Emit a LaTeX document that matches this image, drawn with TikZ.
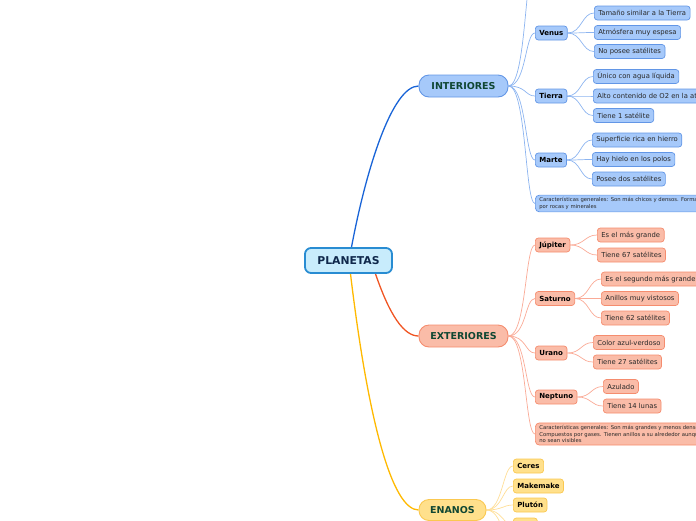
\documentclass[tikz,border=0pt]{standalone}
\usepackage{fontspec}
\setmainfont{DejaVu Sans}
\usetikzlibrary{backgrounds}
\definecolor{bfill}{RGB}{166,201,250}
\definecolor{bdraw}{RGB}{98,150,230}
\definecolor{bline}{RGB}{140,180,240}
\definecolor{bmain}{RGB}{25,100,215}
\definecolor{pfill}{RGB}{200,236,252}
\definecolor{pdraw}{RGB}{40,140,210}
\definecolor{rfill}{RGB}{250,188,168}
\definecolor{rdraw}{RGB}{245,140,110}
\definecolor{rline}{RGB}{250,170,150}
\definecolor{rmain}{RGB}{240,85,35}
\definecolor{yfill}{RGB}{255,224,140}
\definecolor{ydraw}{RGB}{250,200,80}
\definecolor{yline}{RGB}{255,222,150}
\definecolor{ymain}{RGB}{255,185,0}
\definecolor{gtext}{RGB}{15,70,50}
\definecolor{ntext}{RGB}{15,40,75}
\definecolor{ltext}{RGB}{40,40,40}
\tikzset{
  box/.style={rounded corners=3pt, line width=0.7pt, minimum height=14pt, inner xsep=4pt, inner ysep=0pt, anchor=west},
  leaf/.style={box, font=\fontsize{6.8}{8}\selectfont, text=ltext},
  sub/.style={box, font=\fontsize{7}{8}\selectfont\bfseries, text=black},
  note/.style={box, rounded corners=4pt, font=\fontsize{5.3}{6.4}\selectfont, text=ltext, align=left, inner ysep=2.5pt, inner xsep=4pt},
  mainbox/.style={rounded corners=10pt, line width=0.9pt, minimum height=22pt, font=\fontsize{9.5}{11}\selectfont\bfseries, text=gtext, inner xsep=11pt},
  bl/.style={fill=bfill, draw=bdraw},
  rd/.style={fill=rfill, draw=rdraw},
  yl/.style={fill=yfill, draw=ydraw},
  blink/.style={draw=bline, line width=0.7pt},
  rlink/.style={draw=rline, line width=0.7pt},
  ylink/.style={draw=yline, line width=0.7pt},
}
\begin{document}
\begin{tikzpicture}[x=1pt,y=-1pt]
\useasboundingbox (0,0) rectangle (696,520);
\clip (0,0) rectangle (696,520);
% root
\node[rounded corners=6pt, fill=pfill, draw=pdraw, line width=1.8pt, minimum width=87pt, minimum height=25pt, font=\fontsize{10.8}{12}\selectfont\bfseries, text=ntext] (pl) at (348.5,260.5) {PLANETAS};
% interiores
\node[mainbox, bl, minimum width=89pt] (int) at (463.5,86) {INTERIORES};
\node[sub, bl] (venus) at (535,33) {Venus};
\node[sub, bl] (tierra) at (535,96) {Tierra};
\node[sub, bl] (marte) at (535,160) {Marte};
\node[note, bl] (intc) at (535,203.5) {Características generales: Son más chicos y densos. Formados\\por rocas y minerales};
\node[leaf, bl] (v1) at (594,13) {Tamaño similar a la Tierra};
\node[leaf, bl] (v2) at (594,32.5) {Atmósfera muy espesa};
\node[leaf, bl] (v3) at (594,51.5) {No posee satélites};
\node[leaf, bl] (t1) at (593,76.5) {Único con agua líquida};
\node[leaf, bl] (t2) at (593,96) {Alto contenido de O2 en la atmósfera};
\node[leaf, bl] (t3) at (593,115.5) {Tiene 1 satélite};
\node[leaf, bl] (m1) at (592,140) {Superficie rica en hierro};
\node[leaf, bl] (m2) at (592,159.5) {Hay hielo en los polos};
\node[leaf, bl] (m3) at (592,179) {Posee dos satélites};
\coordinate (merc) at (535,-40);
% exteriores
\node[mainbox, rd, minimum width=89pt] (ext) at (463.5,336) {EXTERIORES};
\node[sub, rd] (jup) at (535,245) {Júpiter};
\node[sub, rd] (sat) at (535,298.5) {Saturno};
\node[sub, rd] (ura) at (535,353) {Urano};
\node[sub, rd] (nep) at (535,397) {Neptuno};
\node[note, rd] (extc) at (535,434) {Características generales: Son más grandes y menos densos.\\Compuestos por gases. Tienen anillos a su alrededor aunque\\no sean visibles};
\node[leaf, rd] (j1) at (597,235) {Es el más grande};
\node[leaf, rd] (j2) at (597,255) {Tiene 67 satélites};
\node[leaf, rd] (s1) at (601,279) {Es el segundo más grande};
\node[leaf, rd] (s2) at (601,298.5) {Anillos muy vistosos};
\node[leaf, rd] (s3) at (601,318) {Tiene 62 satélites};
\node[leaf, rd] (u1) at (593,342.5) {Color azul-verdoso};
\node[leaf, rd] (u2) at (593,362) {Tiene 27 satélites};
\node[leaf, rd] (n1) at (603,386.5) {Azulado};
\node[leaf, rd] (n2) at (603,406) {Tiene 14 lunas};
% enanos
\node[mainbox, yl, minimum width=67pt, minimum height=21pt] (ena) at (452.5,510) {ENANOS};
\node[sub, yl] (ceres) at (513,466) {Ceres};
\node[sub, yl] (make) at (513,486) {Makemake};
\node[sub, yl] (pluto) at (513,505) {Plutón};
\node[sub, yl, minimum width=24pt] (eris) at (513,525) {};
\coordinate (haum) at (513,545);
\begin{pgfonlayer}{background}
% main branches
\draw[bmain, line width=1.3pt] ([xshift=3pt]pl.north) .. controls (366,170) and (392,86) .. (int.west);
\draw[rmain, line width=1.3pt] ([xshift=27pt]pl.south) .. controls (390,316) and (404,336) .. (ext.west);
\draw[ymain, line width=1.3pt] ([xshift=2pt]pl.south) .. controls (368,420) and (392,510) .. (ena.west);
% interiores children
\foreach \c in {venus,tierra,marte,intc}
  \draw[blink] (int.east) .. controls +(18,0) and +(-10,0) .. (\c.west);
\draw[blink] (int.east) .. controls +(18,0) and +(-10,0) .. (merc);
\foreach \c in {v1,v2,v3}
  \draw[blink] (venus.east) .. controls +(14,0) and +(-12,0) .. (\c.west);
\foreach \c in {t1,t2,t3}
  \draw[blink] (tierra.east) .. controls +(14,0) and +(-12,0) .. (\c.west);
\foreach \c in {m1,m2,m3}
  \draw[blink] (marte.east) .. controls +(14,0) and +(-12,0) .. (\c.west);
% exteriores children
\foreach \c in {jup,sat,ura,nep,extc}
  \draw[rlink] (ext.east) .. controls +(18,0) and +(-10,0) .. (\c.west);
\foreach \c in {j1,j2}
  \draw[rlink] (jup.east) .. controls +(14,0) and +(-12,0) .. (\c.west);
\foreach \c in {s1,s2,s3}
  \draw[rlink] (sat.east) .. controls +(14,0) and +(-12,0) .. (\c.west);
\foreach \c in {u1,u2}
  \draw[rlink] (ura.east) .. controls +(14,0) and +(-12,0) .. (\c.west);
\foreach \c in {n1,n2}
  \draw[rlink] (nep.east) .. controls +(14,0) and +(-12,0) .. (\c.west);
% enanos children
\foreach \c in {ceres,make,pluto,eris}
  \draw[ylink] (ena.east) .. controls +(16,0) and +(-10,0) .. (\c.west);
\draw[ylink] (ena.east) .. controls +(16,0) and +(-10,0) .. (haum);
\end{pgfonlayer}
\end{tikzpicture}
\end{document}
